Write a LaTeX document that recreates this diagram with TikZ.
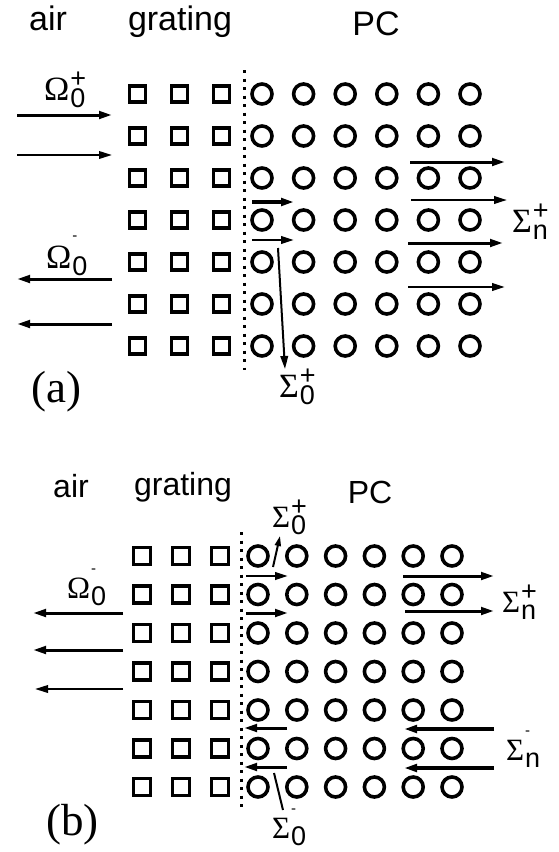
\documentclass[tikz,border=0pt]{standalone}
\usepackage{fontspec}
\setmainfont{Liberation Sans}
\newfontfamily\tnr{Liberation Serif}
\usetikzlibrary{arrows.meta}
\newcommand\subf{\fontsize{27}{27}\selectfont}
\newcommand\tinyf{\fontsize{15}{15}\selectfont}
% symbol, subscript, superscript, raise of superscript
\newcommand\gl[4]{{\tnr #1}\kern1pt\rlap{\raisebox{-0.23em}{\subf #2}}\raisebox{#4}{#3}}
\newcommand\plusup{{\subf +}}
\newcommand\minusup{{\tinyf -}}
\tikzset{
  txtA/.style={anchor=base, inner sep=0pt, font=\fontsize{34}{34}\selectfont},
  txtB/.style={anchor=base, inner sep=0pt, font=\fontsize{32}{32}\selectfont},
  panel/.style={anchor=base west, inner sep=0pt, font=\fontsize{45}{45}\selectfont\tnr},
  labA/.style={anchor=base west, inner sep=0pt, font=\fontsize{34}{34}\selectfont},
  labB/.style={anchor=base west, inner sep=0pt, font=\fontsize{31}{31}\selectfont},
  sqA/.style={draw, rectangle, line width=3.8pt, minimum size=16pt, inner sep=0pt},
  sqB/.style={draw, rectangle, line width=3.8pt, minimum size=17pt, inner sep=0pt},
  ciA/.style={draw, circle, line width=3.6pt, minimum size=20pt, inner sep=0pt},
  ciB/.style={draw, circle, line width=3.6pt, minimum size=20pt, inner sep=0pt},
  arr/.style={-{Triangle[length=13pt,width=7.5pt]}, line width=2pt},
  thk/.style={arr, line width=3pt},
  border/.style={line width=3pt, dash pattern=on 3pt off 5.5pt},
}
\begin{document}
\begin{tikzpicture}[x=1pt,y=-1pt]
\useasboundingbox (0,0) rectangle (559,852);

% ================= panel (a) =================
\node[txtA] (airA) at (48,30) {air};
\node[txtA] (gratA) at (180,30) {grating};
\node[txtA] (pcA) at (376,35) {PC};
\node[panel] (pa) at (31,402) {(a)};

\foreach \r in {0,...,6}{
  \foreach \c/\x in {1/137.5,2/179.5,3/221.5}
    \node[sqA] (sa-\r-\c) at (\x,94+42*\r) {};
  \foreach \c in {0,...,5}
    \node[ciA] (ca-\r-\c) at (262+41.6*\c,94+42*\r) {};
}
\coordinate (dA1) at (244.5,70);
\coordinate (dA2) at (244.5,370);
\draw[border] (dA1) -- (dA2);

\node[labA] (om0p) at (44,100) {\gl{Ω}{0}{\plusup}{0.37em}};
\node[labA] (om0m) at (46,268) {\gl{Ω}{0}{\minusup}{0.8em}};
\node[labA] (sgnpA) at (512,232) {\gl{Σ}{n}{\plusup}{0.37em}};
\node[labA] (sg0pA) at (279,397) {\gl{Σ}{0}{\plusup}{0.37em}};

\coordinate (ia1) at (17,115);  \coordinate (ia1e) at (112,115);
\coordinate (ia2) at (17,155);  \coordinate (ia2e) at (112,155);
\draw[thk] (ia1) -- (ia1e);
\draw[arr] (ia2) -- (ia2e);
\coordinate (ra1) at (112,279); \coordinate (ra1e) at (17,279);
\coordinate (ra2) at (112,324); \coordinate (ra2e) at (17,324);
\draw[thk] (ra1) -- (ra1e);
\draw[thk] (ra2) -- (ra2e);

\coordinate (na1) at (410,162); \coordinate (na1e) at (505,162);
\coordinate (na2) at (411,200); \coordinate (na2e) at (507,200);
\coordinate (na3) at (408,243); \coordinate (na3e) at (503,243);
\coordinate (na4) at (408,287); \coordinate (na4e) at (505,287);
\draw[thk] (na1) -- (na1e);
\draw[arr, line width=2.3pt] (na2) -- (na2e);
\draw[thk] (na3) -- (na3e);
\draw[arr, line width=2.5pt] (na4) -- (na4e);

\coordinate (za1) at (252,202); \coordinate (za1e) at (294,202);
\coordinate (za2) at (252,240); \coordinate (za2e) at (294,240);
\draw[thk, line width=3.5pt] (za1) -- (za1e);
\draw[arr, line width=2.5pt] (za2) -- (za2e);
\coordinate (sa1) at (278,248); \coordinate (sa1e) at (285,369);
\draw[arr] (sa1) -- (sa1e);

% ================= panel (b) =================
\node[txtB] (airB) at (71,497) {air};
\node[txtB] (gratB) at (183,495) {grating};
\node[txtB] (pcB) at (370,503) {PC};
\node[panel] (pb) at (46,835) {(b)};

\foreach \r in {0,...,6}{
  \foreach \c/\x in {1/142,2/181,3/220}
    \node[sqB] (sb-\r-\c) at (\x,556+38.5*\r) {};
  \foreach \c in {0,...,5}
    \node[ciB] (cb-\r-\c) at (258+38.8*\c,556+38.5*\r) {};
}
\coordinate (dB1) at (241,532);
\coordinate (dB2) at (241,812);
\draw[border] (dB1) -- (dB2);

\node[labB] (sg0pB) at (272,527) {\gl{Σ}{0}{\plusup}{0.37em}};
\node[labB] (sgnpB) at (502,612) {\gl{Σ}{n}{\plusup}{0.37em}};
\node[labB] (om0mB) at (67,598) {\gl{Ω}{0}{\minusup}{0.8em}};
\node[labB] (sgnmB) at (506,760) {\gl{Σ}{n}{\minusup}{0.8em}};
\node[labB] (sg0mB) at (272,838) {\gl{Σ}{0}{\minusup}{0.8em}};

\coordinate (ub1) at (273,567); \coordinate (ub1e) at (280,536);
\draw[arr, -{Triangle[length=10pt,width=6pt]}] (ub1) -- (ub1e);

\coordinate (zb1) at (246,576); \coordinate (zb1e) at (288,576);
\coordinate (zb2) at (246,613); \coordinate (zb2e) at (288,613);
\draw[arr, line width=2.5pt] (zb1) -- (zb1e);
\draw[thk] (zb2) -- (zb2e);

\coordinate (nb1) at (403,576); \coordinate (nb1e) at (494,576);
\coordinate (nb2) at (405,611); \coordinate (nb2e) at (494,611);
\draw[thk] (nb1) -- (nb1e);
\draw[thk] (nb2) -- (nb2e);

\coordinate (lb1) at (123,613); \coordinate (lb1e) at (33,613);
\coordinate (lb2) at (123,650); \coordinate (lb2e) at (33,650);
\coordinate (lb3) at (123,689); \coordinate (lb3e) at (35,689);
\draw[thk] (lb1) -- (lb1e);
\draw[thk] (lb2) -- (lb2e);
\draw[arr] (lb3) -- (lb3e);

\coordinate (mb1) at (494,729); \coordinate (mb1e) at (404,729);
\coordinate (mb2) at (494,768); \coordinate (mb2e) at (404,768);
\draw[thk, line width=3.5pt] (mb1) -- (mb1e);
\draw[thk, line width=3.5pt] (mb2) -- (mb2e);

\coordinate (kb1) at (287,728); \coordinate (kb1e) at (244,728);
\coordinate (kb2) at (287,767); \coordinate (kb2e) at (244,767);
\draw[thk] (kb1) -- (kb1e);
\draw[thk] (kb2) -- (kb2e);

\coordinate (wb1) at (274,773); \coordinate (wb1e) at (283,810);
\draw[line width=2pt] (wb1) -- (wb1e);
\end{tikzpicture}
\end{document}
